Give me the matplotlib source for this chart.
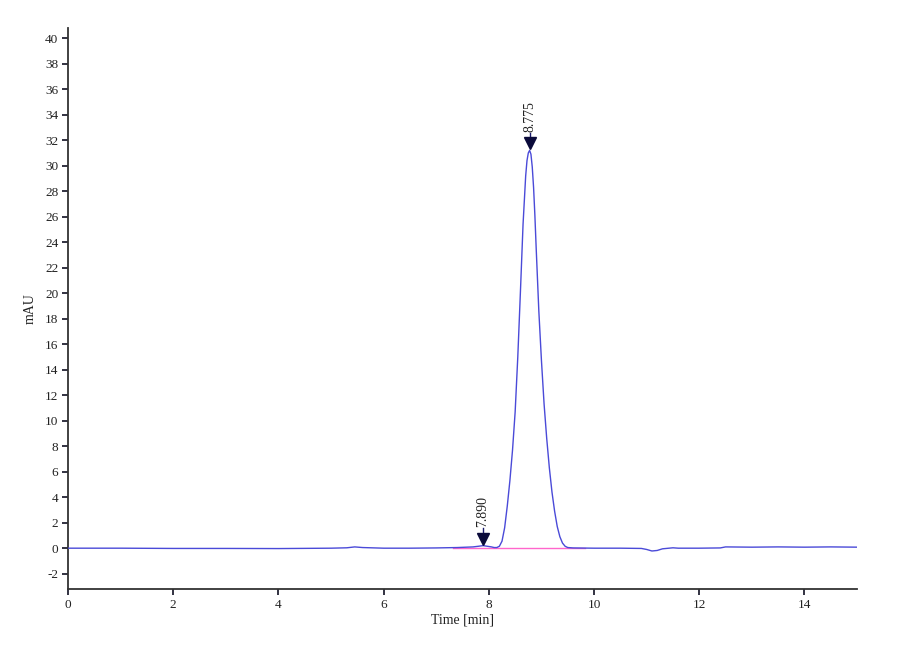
import matplotlib
matplotlib.use("Agg")
import matplotlib.pyplot as plt

plt.rcParams['font.family'] = ['Liberation Serif', 'DejaVu Serif']
plt.rcParams['axes.unicode_minus'] = False

# chromatogram trace (time in min, signal in mAU)
time = [0.0, 1.0, 2.0, 3.0, 4.0, 5.0, 5.3, 5.45, 5.6, 6.0, 6.5, 7.0, 7.4, 7.7, 7.8,
        7.89, 7.97, 8.05, 8.10, 8.15, 8.20, 8.25, 8.30, 8.35, 8.40, 8.45, 8.50,
        8.55, 8.60, 8.65, 8.70, 8.725, 8.75, 8.775, 8.80, 8.825, 8.85, 8.875,
        8.90, 8.95, 9.00, 9.05, 9.10, 9.15, 9.20, 9.25, 9.30, 9.35, 9.40, 9.45,
        9.50, 9.60, 10.0, 10.5, 10.9, 11.0, 11.1, 11.2, 11.3, 11.5, 11.6, 12.0,
        12.4, 12.5, 13.0, 13.5, 14.0, 14.5, 15.0]
signal = [0.0, 0.0, -0.02, -0.02, -0.03, 0.0, 0.03, 0.1, 0.05, 0.0, 0.0, 0.02, 0.05,
          0.1, 0.15, 0.2, 0.15, 0.1, 0.05, 0.05, 0.15, 0.55, 1.6, 3.3, 5.3, 7.7,
          10.7, 15.0, 20.1, 25.4, 29.2, 30.4, 31.0, 31.2, 30.9, 29.9, 28.3, 26.1,
          23.5, 18.6, 14.7, 11.3, 8.6, 6.3, 4.4, 2.9, 1.7, 0.9, 0.4, 0.15,
          0.05, 0.02, 0.0, 0.0, -0.02, -0.1, -0.22, -0.18, -0.05, 0.03, 0.0, 0.0,
          0.02, 0.1, 0.08, 0.1, 0.08, 0.1, 0.08]

# integration baseline
base_time = [7.31, 9.83]
base_signal = [0.05, 0.05]

# peak labels
peak_times = [7.890, 8.775]
peak_heights = [0.2, 31.2]
peak_labels = ['7.890', '8.775']

fig = plt.figure(figsize=(9, 6.6), dpi=100)
ax = fig.add_axes([0.0756, 0.1076, 0.8767, 0.85])

ax.plot(base_time, base_signal, color='#ff66cc', lw=1.0, zorder=2)
ax.plot(time, signal, color='#4a4ad8', lw=1.0, zorder=3)

for t, h, lab in zip(peak_times, peak_heights, peak_labels):
    ax.plot([t, t], [h + 0.8, h + 1.4], color='#1a1a6e', lw=1.0, zorder=4)
    ax.plot(t, h + 0.55, marker='v', color='#0a0a3a', markersize=8, zorder=5)
    ax.text(t, h + 1.45, lab, rotation=90, ha='center', va='bottom',
            fontsize=10, color='#222222')

ax.set_xlim(0, 15)
ax.set_ylim(-3.2, 40.8)
ax.set_xticks(range(0, 15, 2))
ax.set_yticks(range(-2, 41, 2))

for side in ['top', 'right']:
    ax.spines[side].set_visible(False)
for side in ['left', 'bottom']:
    ax.spines[side].set_color('#333333')
    ax.spines[side].set_linewidth(1.3)

ax.tick_params(axis='both', direction='out', length=4, width=1.3,
               color='#222233', labelsize=9.5, labelcolor='#222222', pad=3)

ax.set_xlabel('Time [min]', fontsize=10, color='#222222', labelpad=2)
ax.set_ylabel('mAU', fontsize=10, color='#222222', labelpad=6)

fig.savefig('out.png', dpi=100)
